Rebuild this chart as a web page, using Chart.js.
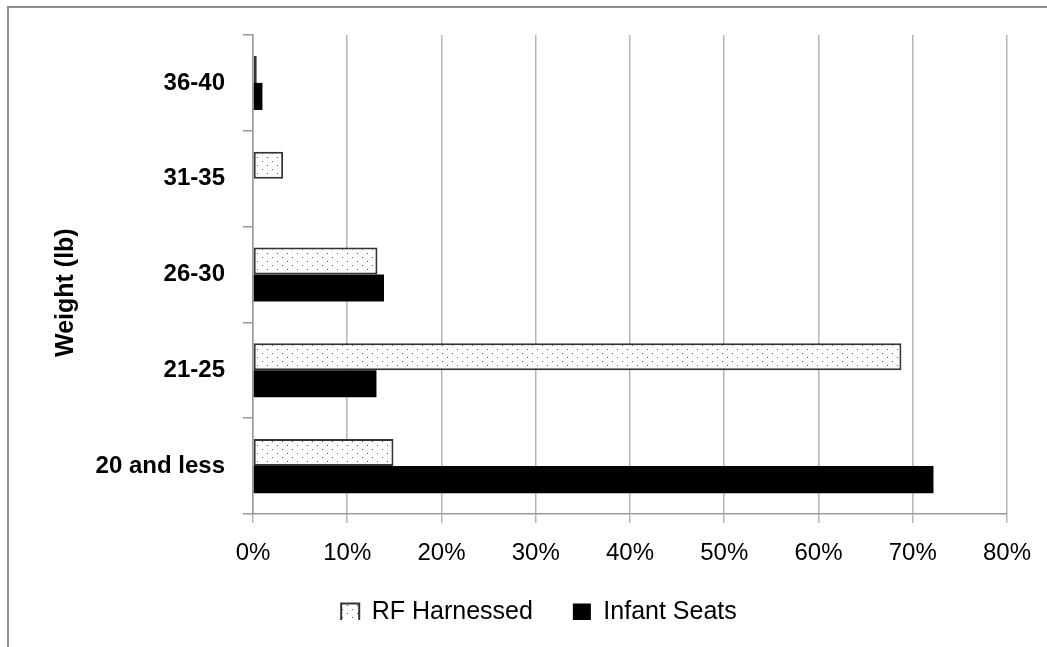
<!DOCTYPE html>
<html lang="en">
<head>
<meta charset="UTF-8" />
<title>Weight (lb) - RF Harnessed vs Infant Seats</title>
<script src="https://cdn.jsdelivr.net/npm/chart.js"></script>
<style>
  html, body { margin: 0; padding: 0; background: #fff; }
  .frame { position: absolute; left: 0; top: 0; width: 1047px; height: 647px; }
  .border {
    position: absolute; left: 7px; top: 6px; right: 0; bottom: 0;
    border-left: 2px solid #8f8f8f; border-top: 2px solid #8f8f8f;
    pointer-events: none;
  }
  canvas { display: block; }
</style>
</head>
<body>
<div class="frame">
  <canvas id="chart" width="1047" height="647"></canvas>
  <div class="border"></div>
</div>

<script>
// categories listed top to bottom as they appear on the chart
const categories = ['36-40', '31-35', '26-30', '21-25', '20 and less'];
const rfHarnessed = [0.4, 3.2, 13.2, 68.8, 14.9];
const infantSeats = [1.0, 0, 13.9, 13.1, 72.2];
const xMin = 0;
const xMax = 80;
const xStep = 10;

const FONT = '"Liberation Sans", Arial, sans-serif';

// dotted fill used for the RF Harnessed bars
function dotPattern() {
  const c = document.createElement('canvas');
  c.width = 10;
  c.height = 8;
  const g = c.getContext('2d');
  g.fillStyle = '#ffffff';
  g.fillRect(0, 0, 10, 8);
  g.fillStyle = '#555555';
  g.fillRect(2, 1, 1, 1);
  g.fillRect(7, 5, 1, 1);
  return g.createPattern(c, 'repeat');
}

const ctx = document.getElementById('chart').getContext('2d');
const dots = dotPattern();

// rotated axis title, placed where the original has it
const yTitle = {
  id: 'yTitle',
  afterDraw(chart) {
    const g = chart.ctx;
    g.save();
    g.translate(73, 357);
    g.rotate(-Math.PI / 2);
    g.font = 'bold 25px ' + FONT;
    g.fillStyle = '#000';
    g.textAlign = 'left';
    g.textBaseline = 'alphabetic';
    g.fillText('Weight (lb)', 0, 0);
    g.restore();
  }
};

new Chart(ctx, {
  type: 'bar',
  data: {
    labels: categories,
    datasets: [
      {
        label: 'RF Harnessed',
        data: rfHarnessed,
        backgroundColor: dots,
        borderColor: '#333333',
        borderWidth: 2,
        borderSkipped: false
      },
      {
        label: 'Infant Seats',
        data: infantSeats,
        backgroundColor: '#000000',
        borderColor: '#000000',
        borderWidth: 0
      }
    ]
  },
  options: {
    indexAxis: 'y',
    responsive: false,
    animation: false,
    categoryPercentage: 0.565,
    barPercentage: 1,
    layout: { padding: { left: 71, right: 40, top: 35, bottom: 27 } },
    plugins: {
      tooltip: { enabled: false },
      legend: {
        position: 'bottom',
        maxHeight: 60,
        labels: {
          color: '#000',
          font: { family: FONT, size: 25 },
          boxWidth: 18,
          boxHeight: 18,
          padding: 40
        }
      }
    },
    scales: {
      x: {
        min: xMin,
        max: xMax,
        ticks: {
          stepSize: xStep,
          color: '#000',
          font: { family: FONT, size: 24 },
          padding: 16,
          callback: v => v + '%'
        },
        grid: { color: '#b5b5b5', lineWidth: 1.5, tickLength: 9 },
        border: { color: '#9a9a9a', width: 1.5 },
        afterFit(scale) { scale.height = 46; }
      },
      y: {
        ticks: {
          color: '#000',
          font: { family: FONT, size: 24, weight: 'bold' },
          padding: 18
        },
        grid: {
          drawOnChartArea: false,
          offset: true,
          color: '#9a9a9a',
          lineWidth: 1.5,
          tickLength: 10
        },
        border: { color: '#9a9a9a', width: 1.5 },
        afterFit(scale) { scale.width = 182; }
      }
    }
  },
  plugins: [yTitle]
});
</script>
</body>
</html>
